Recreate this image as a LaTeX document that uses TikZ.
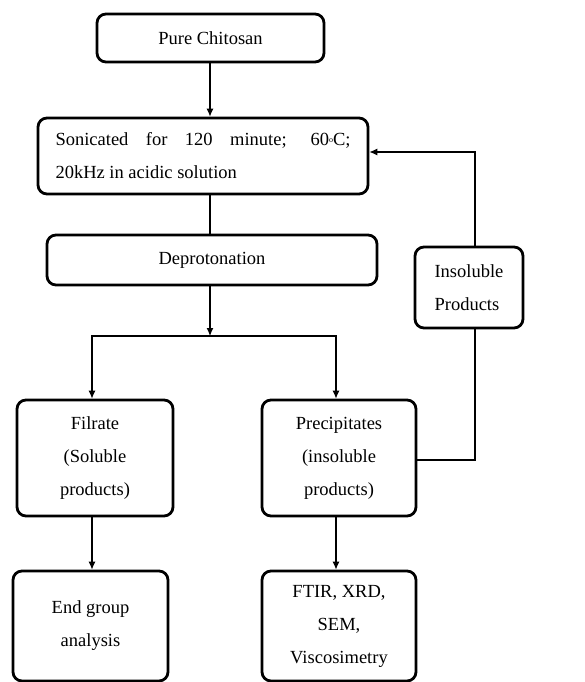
\documentclass[tikz,border=0pt]{standalone}
\usepackage{fontspec}
\setmainfont{Liberation Serif}
\usetikzlibrary{arrows.meta}
\begin{document}
\begin{tikzpicture}[x=1pt,y=-1pt,
  box/.style={draw,line width=2.8pt,rounded corners=9pt,inner sep=0pt,
    font=\fontsize{18.5}{33}\selectfont,align=center},
  conn/.style={line width=1.1pt},
  arr/.style={conn,-{Latex[length=8pt,width=7pt]}}]
\useasboundingbox (0,0) rectangle (585,682);
\node[box,minimum width=227pt,minimum height=48pt] (pure) at (210.5,38) {Pure Chitosan};
\node[box,minimum width=330pt,minimum height=76pt] (sonic) at (203,156)
  {\makebox[295pt][s]{Sonicated for 120 minute; 60\raisebox{0.35ex}{\fontsize{8}{8}\selectfont o}C;}\\
   \makebox[295pt][l]{20kHz in acidic solution}};
\node[box,minimum width=330pt,minimum height=50pt] (deprot) at (212,260) {Deprotonation};
\node[box,minimum width=108pt,minimum height=81pt,align=left] (insol) at (469,287.5) {Insoluble\\Products};
\node[box,minimum width=156pt,minimum height=116pt] (filr) at (95,458) {Filrate\\(Soluble\\products)};
\node[box,minimum width=154pt,minimum height=116pt] (prec) at (339,458) {Precipitates\\(insoluble\\products)};
\node[box,minimum width=155pt,minimum height=110pt] (endg) at (90.5,626) {End group\\analysis};
\node[box,minimum width=154pt,minimum height=110pt] (ftir) at (339,626) {FTIR, XRD,\\SEM,\\Viscosimetry};
\coordinate (spine) at (210,0);
\coordinate (split) at (210,336);
\coordinate (lx) at (92,0);
\coordinate (rx) at (336,0);
\coordinate (fbx) at (475,0);
\coordinate (fby) at (0,152);
\coordinate (py) at (0,460);
\draw[arr] (pure.south -| spine) -- (sonic.north -| spine);
\draw[conn] (sonic.south -| spine) -- (deprot.north -| spine);
\draw[arr] (deprot.south -| spine) -- (split);
\draw[arr] (split) -- (split -| lx) -- (filr.north -| lx);
\draw[arr] (split) -- (split -| rx) -- (prec.north -| rx);
\draw[arr] (filr.south -| lx) -- (endg.north -| lx);
\draw[arr] (prec.south -| rx) -- (ftir.north -| rx);
\draw[conn] (prec.east |- py) -- (fbx |- py) -- (insol.south -| fbx);
\draw[arr] (insol.north -| fbx) -- (fbx |- fby) -- (sonic.east |- fby);
\end{tikzpicture}
\end{document}
